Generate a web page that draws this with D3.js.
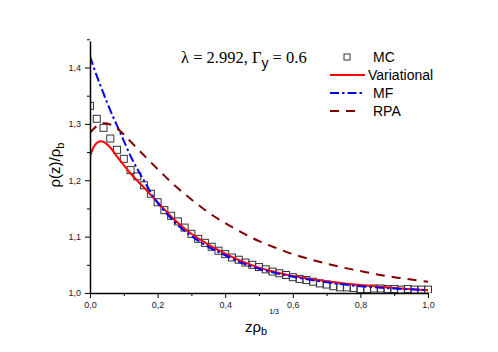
<!DOCTYPE html>
<html>
<head>
<title>Density profile</title>
<meta charset="utf-8">
<style type="text/css">
body { margin: 0; background: #fff; }
svg text { font-family: "Liberation Sans", Arial, sans-serif; fill: #000; }
.tick text { font-size: 9px; fill: #222; }
.serif { font-family: "Liberation Serif", "Times New Roman", serif; }
</style>
</head>
<body>
<svg id="chart"></svg>

<script src="https://cdnjs.cloudflare.com/ajax/libs/d3/7.8.5/d3.min.js"></script>
<script type="text/javascript">
const WIDTH = 498;
const HEIGHT = 352;
const PLOT = {left: 90, right: 428, top: 41, bottom: 293};

// MC simulation points
const mcZ = [0.00, 0.02, 0.04, 0.06, 0.08, 0.10, 0.12, 0.14, 0.16, 0.18,
             0.20, 0.22, 0.24, 0.26, 0.28, 0.30, 0.32, 0.34, 0.36, 0.38,
             0.40, 0.42, 0.44, 0.46, 0.48, 0.50, 0.52, 0.54, 0.56, 0.58,
             0.60, 0.62, 0.64, 0.66, 0.68, 0.70, 0.72, 0.74, 0.76, 0.78,
             0.80, 0.82, 0.84, 0.86, 0.88, 0.90, 0.92, 0.94, 0.96, 0.98, 1.00];
const mcRho = [1.332, 1.309, 1.293, 1.274, 1.254, 1.238, 1.218, 1.207, 1.191, 1.176,
               1.161, 1.147, 1.137, 1.127, 1.116, 1.105, 1.096, 1.089, 1.082, 1.075,
               1.069, 1.063, 1.059, 1.054, 1.050, 1.046, 1.042, 1.038, 1.035, 1.032,
               1.028, 1.025, 1.023, 1.020, 1.017, 1.015, 1.012, 1.010, 1.010, 1.009,
               1.007, 1.007, 1.008, 1.008, 1.007, 1.007, 1.006, 1.007, 1.006, 1.006, 1.006];

// variational theory
const varZ = [0, 0.01, 0.02, 0.03, 0.04, 0.06, 0.08, 0.10, 0.12, 0.14, 0.16, 0.18, 0.20,
              0.25, 0.30, 0.35, 0.40, 0.45, 0.50, 0.55, 0.60, 0.65, 0.70, 0.80, 0.90, 1.00];
const varRho = [1.242, 1.258, 1.266, 1.269, 1.268, 1.258, 1.242, 1.227, 1.212, 1.199, 1.187, 1.174, 1.161,
                1.130, 1.105, 1.086, 1.070, 1.056, 1.045, 1.037, 1.030, 1.025, 1.021, 1.014, 1.009, 1.005];

// mean field
const mfZ = [0, 0.02, 0.04, 0.06, 0.08, 0.10, 0.12, 0.14, 0.16, 0.18, 0.20,
             0.25, 0.30, 0.35, 0.40, 0.45, 0.50, 0.60, 0.70, 0.80, 0.90, 1.00];
const mfRho = [1.420, 1.385, 1.354, 1.324, 1.297, 1.270, 1.243, 1.220, 1.199, 1.178, 1.160,
               1.126, 1.101, 1.082, 1.067, 1.053, 1.043, 1.029, 1.019, 1.012, 1.008, 1.005];

// RPA
const rpaZ = [0, 0.02, 0.04, 0.06, 0.08, 0.10, 0.15, 0.20, 0.25, 0.30, 0.35, 0.40,
              0.45, 0.50, 0.55, 0.60, 0.65, 0.70, 0.75, 0.80, 0.85, 0.90, 0.95, 1.00];
const rpaRho = [1.284, 1.296, 1.301, 1.299, 1.292, 1.281, 1.250, 1.220, 1.191, 1.166, 1.143, 1.124,
                1.107, 1.092, 1.080, 1.069, 1.060, 1.052, 1.045, 1.039, 1.033, 1.028, 1.024, 1.020];

const xMajor = [0, 0.2, 0.4, 0.6, 0.8, 1.0];
const xMinor = [0.1, 0.3, 0.5, 0.7, 0.9];
const yMajor = [1.0, 1.1, 1.2, 1.3, 1.4];
const yMinor = [1.05, 1.15, 1.25, 1.35, 1.45];

const legendItems = ["MC", "Variational", "MF", "RPA"];

const comma = d => d3.format(".1f")(d).replace(".", ",");

const x = d3.scaleLinear().domain([0, 1]).range([PLOT.left, PLOT.right]);
const y = d3.scaleLinear().domain([1.0, 1.447]).range([PLOT.bottom, PLOT.top]);

const svg = d3.select("#chart")
    .attr("width", WIDTH)
    .attr("height", HEIGHT);

svg.append("defs").append("clipPath").attr("id", "plot-clip")
  .append("rect")
    .attr("x", PLOT.left).attr("y", PLOT.top - 5)
    .attr("width", PLOT.right - PLOT.left + 5)
    .attr("height", PLOT.bottom - PLOT.top + 5);

const plot = svg.append("g").attr("clip-path", "url(#plot-clip)");

// MC squares
const mc = mcZ.map((z, i) => ({z: z, v: mcRho[i]}));
plot.selectAll("rect.mc").data(mc).join("rect")
    .attr("class", "mc")
    .attr("x", d => x(d.z) - 3.5)
    .attr("y", d => y(d.v) - 3.5)
    .attr("width", 7).attr("height", 7)
    .attr("fill", "none")
    .attr("stroke", "#333")
    .attr("stroke-width", 1);

const line = d3.line()
    .x(d => x(d.z))
    .y(d => y(d.v))
    .curve(d3.curveCatmullRom);

const series = [
    {z: varZ, v: varRho, color: "#ff0000", dash: null},
    {z: mfZ, v: mfRho, color: "#0000ff", dash: "9,3,2.5,3"},
    {z: rpaZ, v: rpaRho, color: "#800000", dash: "9,7"}
];

series.forEach(s => {
    plot.append("path")
        .datum(s.z.map((z, i) => ({z: z, v: s.v[i]})))
        .attr("fill", "none")
        .attr("stroke", s.color)
        .attr("stroke-width", 2)
        .attr("stroke-dasharray", s.dash)
        .attr("d", line);
});

// axes
const axisStyle = g => {
    g.select(".domain").attr("stroke", "#000").attr("stroke-width", 1.5);
    g.selectAll(".tick line").attr("stroke", "#000").attr("stroke-width", 1);
};

svg.append("g")
    .attr("transform", `translate(0,${PLOT.bottom})`)
    .call(d3.axisBottom(x).tickValues(xMinor).tickSize(3).tickFormat("").tickSizeOuter(0))
    .call(g => g.select(".domain").remove())
    .call(axisStyle);
svg.append("g")
    .attr("transform", `translate(0,${PLOT.bottom})`)
    .call(d3.axisBottom(x).tickValues(xMajor).tickSize(5).tickPadding(4).tickFormat(comma).tickSizeOuter(0))
    .call(axisStyle);

svg.append("g")
    .attr("transform", `translate(${PLOT.left},0)`)
    .call(d3.axisLeft(y).tickValues(yMinor).tickSize(3).tickFormat("").tickSizeOuter(0))
    .call(g => g.select(".domain").remove())
    .call(axisStyle);
svg.append("g")
    .attr("transform", `translate(${PLOT.left},0)`)
    .call(d3.axisLeft(y).tickValues(yMajor).tickSize(5).tickPadding(4).tickFormat(comma).tickSizeOuter(0))
    .call(axisStyle);

// axis titles
const yTitle = svg.append("text")
    .attr("transform", `translate(60,165) rotate(-90)`)
    .attr("text-anchor", "middle")
    .attr("font-size", 15);
yTitle.append("tspan").text("ρ(z)/ρ");
yTitle.append("tspan").attr("font-size", 11).attr("dy", 4).text("b");

const xTitle = svg.append("text")
    .attr("x", 245).attr("y", 332)
    .attr("font-size", 15);
xTitle.append("tspan").text("zρ");
xTitle.append("tspan").attr("font-size", 11).attr("dy", 3).text("b");
xTitle.append("tspan").attr("font-size", 7).attr("dx", 2).attr("dy", -21).text("1/3");

// parameter annotation
const note = svg.append("text")
    .attr("class", "serif")
    .attr("x", 181).attr("y", 63)
    .attr("font-size", 16.5);
note.append("tspan").text("λ = 2.992, Γ");
note.append("tspan").attr("font-family", "Liberation Sans, Arial, sans-serif")
    .attr("font-size", 14).attr("dy", 5).text("y");
note.append("tspan").attr("dy", -5).text(" = 0.6");

// legend
const legend = svg.append("g");
const legendY = [57, 75, 93, 111];
legendItems.forEach((name, i) => {
    const g = legend.append("g").attr("transform", `translate(0,${legendY[i]})`);
    if (i === 0) {
        g.append("rect")
            .attr("x", 344).attr("y", -3).attr("width", 6).attr("height", 6)
            .attr("fill", "none").attr("stroke", "#333");
    } else {
        const s = series[i - 1];
        g.append("line")
            .attr("x1", 330).attr("x2", i === 3 ? 358 : 365)
            .attr("stroke", s.color).attr("stroke-width", 2)
            .attr("stroke-dasharray", s.dash);
    }
    g.append("text")
        .attr("x", i === 1 ? 368 : 373)
        .attr("dy", "0.35em")
        .attr("font-size", 14)
        .text(name);
});
</script>
</body>
</html>
